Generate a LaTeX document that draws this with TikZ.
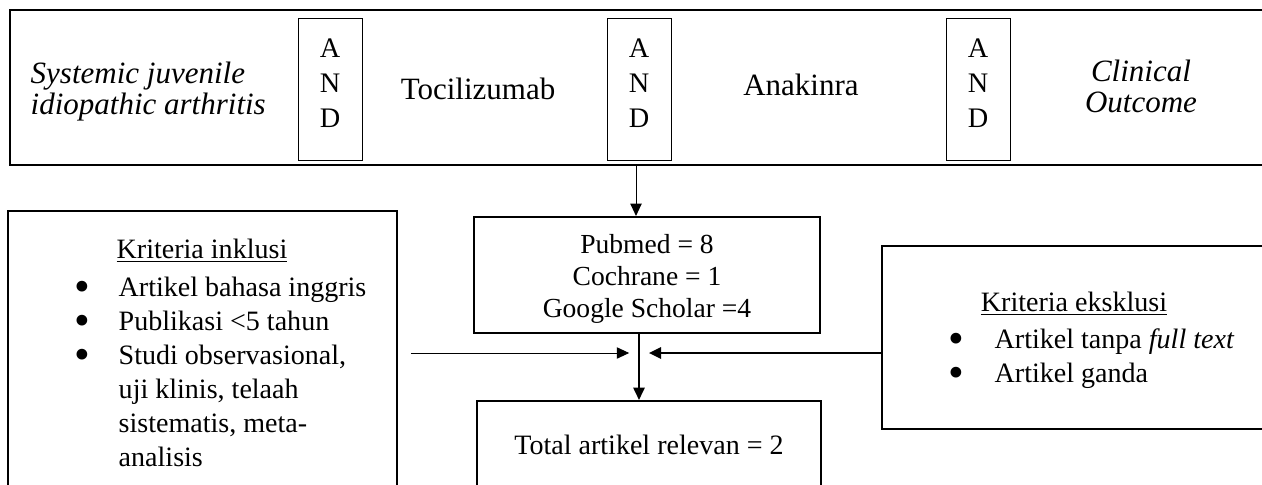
\documentclass[tikz,border=0pt]{standalone}
\usepackage{fontspec}
\setmainfont{Liberation Serif}
\usetikzlibrary{arrows.meta,fit}
\newcommand{\bul}{\raisebox{-2.2pt}{\scalebox{1.6}{\textbullet}}}

\begin{document}
\begin{tikzpicture}[x=0.4065pt,y=-0.4065pt,font=\fontsize{11.4}{13.8}\selectfont]
    \tikzstyle{box}=[draw=black,line width=0.85pt,inner sep=0pt]
    \tikzstyle{andbox}=[draw=black,line width=0.4pt,inner sep=0pt]
    \tikzstyle{big}=[font=\fontsize{12.6}{12.6}\selectfont]
    \tikzstyle{arr}=[-{Triangle[length=5pt,width=4.6pt]}]
    \clip (0,0) rectangle (1262,484);

    % search terms
    \node[box,line width=1.2pt,fit={(10,10) (1275,165)}] (query) {};
    \foreach \num/\x in {1/330, 2/639, 3/978}
    {
        \node[andbox,fit={(\x-32,18) (\x+32,160)}] (and-\num) {};
        \node[anchor=north,align=center,inner sep=0pt,font=\fontsize{11.5}{14.2}\selectfont] (andtxt-\num) at (\x,38) {A\\N\\D};
    }
    \node[big,anchor=west,align=left] (sjia) at (22,92) {\textit{Systemic juvenile}\\\textit{idiopathic arthritis}};
    \node[big] (toci) at (478,89) {Tocilizumab};
    \node[big] (anak) at (801,85) {Anakinra};
    \node[big,align=center] (outc) at (1141,86) {\textit{Clinical}\\\textit{Outcome}};

    % databases and result
    \node[box,fit={(474,217) (820,333)}] (search) {};
    \node[align=center,font=\fontsize{11.2}{12.9}\selectfont] (search-txt) at (647,279) {Pubmed = 8\\Cochrane = 1\\Google Scholar =4};
    \node[box,fit={(477,401) (821,490)}] (total) {};
    \node (total-txt) at (649,445) {Total artikel relevan = 2};

    % inclusion criteria
    \node[box,fit={(8,211) (397,500)}] (inkl) {};
    \node (inkl-title) at (202,251) {\underline{Kriteria inklusi}};
    \node[anchor=north west,inner sep=0pt] (inkl-list) at (74,272)
        {\begin{tabular}{@{}c@{\hspace{11.6pt}}l@{}}
        \bul & Artikel bahasa inggris\\
        \bul & Publikasi <5 tahun\\
        \bul & Studi observasional,\\
        & uji klinis, telaah\\
        & sistematis, meta-\\
        & analisis
        \end{tabular}};

    % exclusion criteria
    \node[box,fit={(882,246) (1275,429)}] (eksk) {};
    \node (eksk-title) at (1074,304) {\underline{Kriteria eksklusi}};
    \node[anchor=north west,inner sep=0pt] (eksk-list) at (948,324)
        {\begin{tabular}{@{}c@{\hspace{12.4pt}}l@{}}
        \bul & Artikel tanpa \textit{full text}\\
        \bul & Artikel ganda
        \end{tabular}};

    \coordinate (join) at (639,353);
    \draw[arr,line width=0.4pt] (query.south -| 636,0) -- (search.north -| 636,0);
    \draw[arr,line width=0.7pt] (search.south -| join) -- (total.north -| join);
    \draw[arr,line width=0.4pt] ([xshift=5.2pt]inkl.east |- join) -- ([xshift=-4pt]join);
    \draw[arr,line width=0.95pt] (eksk.west |- join) -- ([xshift=4pt]join);
\end{tikzpicture}
\end{document}
